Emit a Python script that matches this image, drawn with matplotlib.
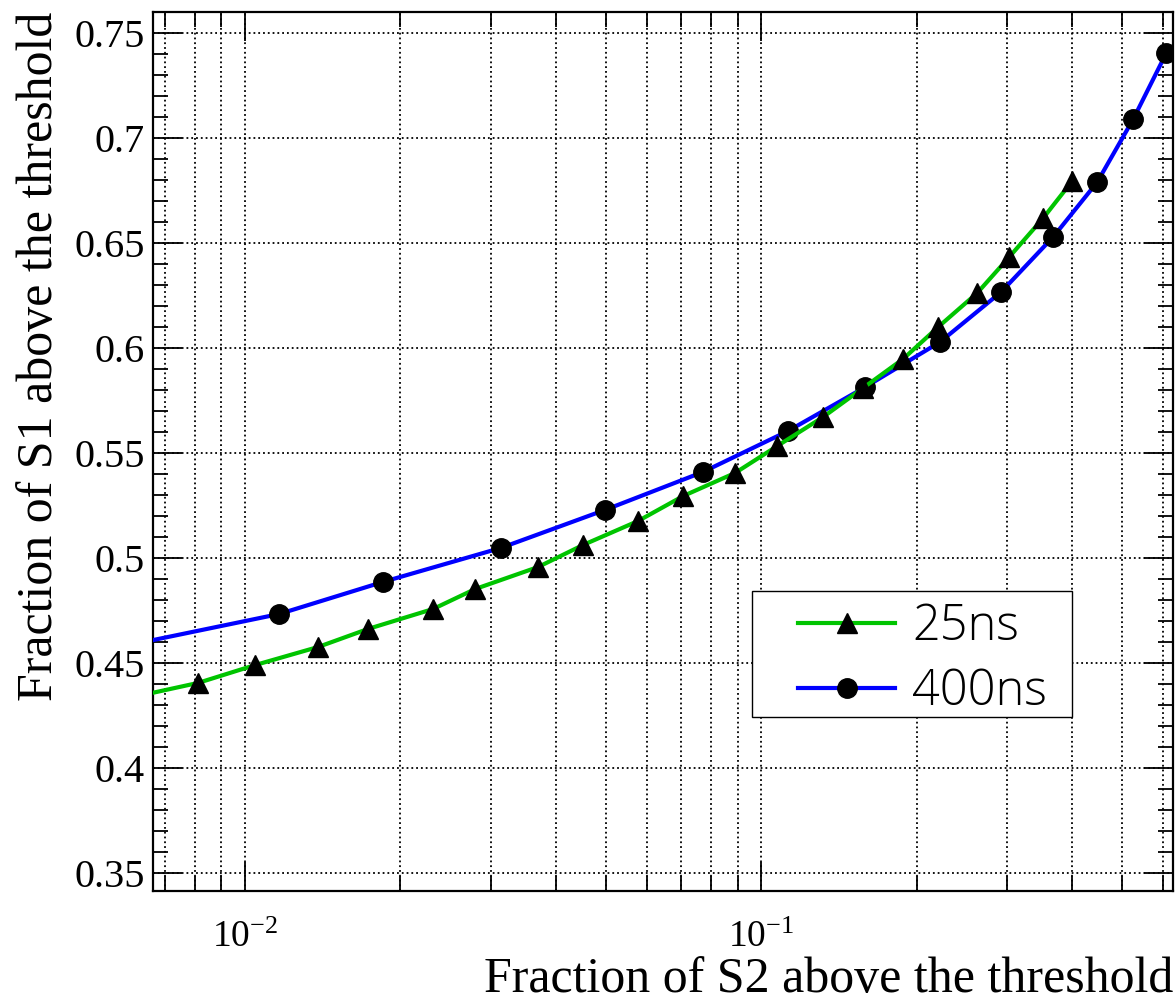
import matplotlib
matplotlib.use("Agg")
import matplotlib.pyplot as plt
from matplotlib.patches import Rectangle
from matplotlib.ticker import FixedLocator, FuncFormatter, LogLocator, NullFormatter, MultipleLocator

# data (first point of each series lies left of the frame)
s2_25ns = [0.00573, 0.00811, 0.01046, 0.01385, 0.01731, 0.02314, 0.02791, 0.03697,
           0.04519, 0.05774, 0.07062, 0.08905, 0.1074, 0.1318, 0.1577, 0.1884,
           0.2203, 0.2622, 0.3024, 0.3520, 0.4006]
s1_25ns = [0.4324, 0.4405, 0.4490, 0.4576, 0.4662, 0.4757, 0.4852, 0.4957,
           0.5062, 0.5176, 0.5295, 0.5405, 0.5533, 0.5671, 0.5810, 0.5948,
           0.6100, 0.6262, 0.6433, 0.6619, 0.6795]

s2_400ns = [0.00524, 0.01164, 0.01851, 0.03133, 0.04985, 0.07722, 0.1128, 0.1591,
            0.2223, 0.2918, 0.3680, 0.4479, 0.5259, 0.6096]
s1_400ns = [0.4557, 0.4733, 0.4886, 0.5048, 0.5229, 0.5410, 0.5605, 0.5814,
            0.6029, 0.6267, 0.6529, 0.6790, 0.7090, 0.7405]

y_ticks = [0.35, 0.4, 0.45, 0.5, 0.55, 0.6, 0.65, 0.7, 0.75]

plt.rcParams['font.family'] = 'Liberation Serif'
plt.rcParams['mathtext.fontset'] = 'custom'
plt.rcParams['mathtext.rm'] = 'Liberation Serif'
plt.rcParams['mathtext.it'] = 'Liberation Serif:italic'

fig = plt.figure(figsize=(11.75, 10.02), dpi=100)
ax = fig.add_axes([0.1302, 0.1108, 0.8681, 0.8772])

ax.plot(s2_400ns, s1_400ns, color='#0000ff', lw=3, marker='o', ms=14,
        mfc='black', mec='black', label='400ns', zorder=3)
ax.plot(s2_25ns, s1_25ns, color='#00c400', lw=3, marker='^', ms=14,
        mfc='black', mec='black', label='25ns', zorder=4)

ax.set_xscale('log')
ax.set_xlim(0.00663, 0.628)
ax.set_ylim(0.3414, 0.76)

ax.yaxis.set_major_locator(FixedLocator(y_ticks))
ax.yaxis.set_minor_locator(MultipleLocator(0.01))
ax.yaxis.set_major_formatter(FuncFormatter(lambda v, p: f"{v:g}"))
ax.xaxis.set_major_locator(LogLocator(base=10))
ax.xaxis.set_minor_locator(LogLocator(base=10, subs=range(2, 10)))
ax.xaxis.set_minor_formatter(NullFormatter())

ax.grid(True, which='both', axis='x', color='black', linestyle=':', lw=1.3)
ax.grid(True, which='major', axis='y', color='black', linestyle=':', lw=1.3)
ax.set_axisbelow(True)

ax.tick_params(which='both', direction='in', top=True, right=True, width=1.3)
ax.tick_params(which='major', length=21)
ax.tick_params(which='minor', length=11)
ax.tick_params(axis='y', labelsize=29, pad=6)
ax.tick_params(axis='x', labelsize=27, pad=21)
for sp in ax.spines.values():
    sp.set_linewidth(1.6)

ax.set_xlabel('Fraction of S2 above the threshold', fontsize=36, loc='right')
ax.set_ylabel('Fraction of S1 above the threshold', fontsize=36, loc='top')
ax.xaxis.set_label_coords(1.0, -0.075)
ax.yaxis.set_label_coords(-0.088, 1.0)

# legend box drawn separately so the padding matches the original
ax.add_patch(Rectangle((0.587, 0.198), 0.314, 0.143, transform=ax.transAxes,
                       facecolor='white', edgecolor='black', lw=1.0, zorder=5))
handles, labels = ax.get_legend_handles_labels()
leg = ax.legend(handles[::-1], labels[::-1], loc='center left',
                bbox_to_anchor=(0.6324, 0.2634), frameon=False,
                prop={'family': 'Open Sans', 'weight': 'light', 'size': 35},
                handlelength=2.0, handletextpad=0.35, borderpad=0,
                labelspacing=0.31, borderaxespad=0)
leg.set_zorder(6)

fig.savefig('out.png', dpi=100)
